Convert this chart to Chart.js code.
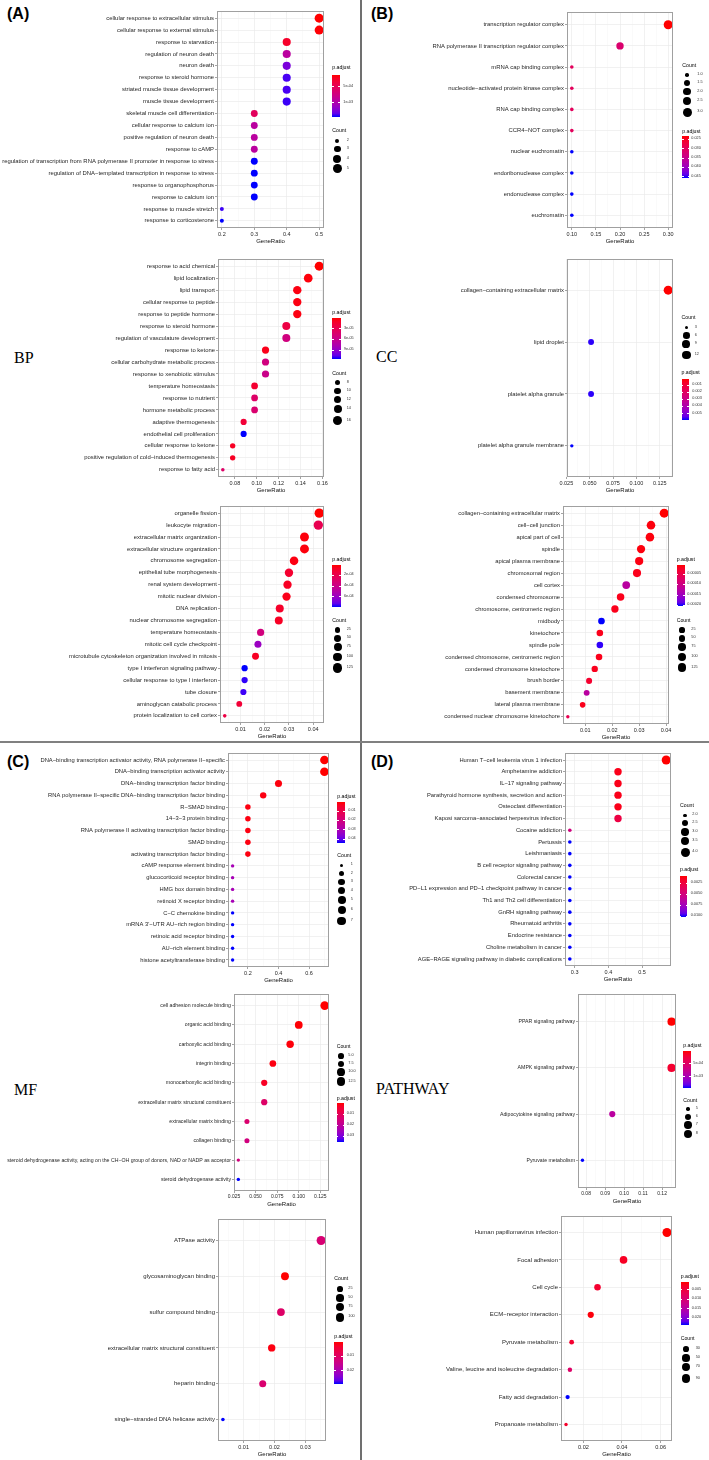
<!DOCTYPE html>
<html><head><meta charset="utf-8">
<script src="https://cdn.jsdelivr.net/npm/chart.js@4.4.1/dist/chart.umd.min.js"></script>
<style>
html,body{margin:0;padding:0;background:#fff;}
#page{position:relative;width:709px;height:1460px;overflow:hidden;background:#fff;font-family:"Liberation Sans",Arial,sans-serif;}
canvas{position:absolute;}
.t{position:absolute;white-space:nowrap;line-height:1;}
.blk{position:absolute;}
</style></head><body><div id="page"></div>
<script>
// ---------------- DATA ----------------
const bp1Terms = ["cellular response to extracellular stimulus","cellular response to external stimulus","response to starvation","regulation of neuron death","neuron death","response to steroid hormone","striated muscle tissue development","muscle tissue development","skeletal muscle cell differentiation","cellular response to calcium ion","positive regulation of neuron death","response to cAMP","regulation of transcription from RNA polymerase II promoter in response to stress","regulation of DNA−templated transcription in response to stress","response to organophosphorus","response to calcium ion","response to muscle stretch","response to corticosterone"];
const bp1Ratio = [0.5,0.5,0.4,0.4,0.4,0.4,0.4,0.4,0.3,0.3,0.3,0.3,0.3,0.3,0.3,0.3,0.2,0.2];
const bp1Count = [5,5,4,4,4,4,4,4,3,3,3,3,3,3,3,3,2,2];
const bp1Padj = [1.5e-4,1.6e-4,2.8e-4,9.2e-4,1.25e-3,1.38e-3,1.38e-3,1.40e-3,5.4e-4,9.2e-4,9.2e-4,9.2e-4,1.44e-3,1.44e-3,1.44e-3,1.44e-3,1.40e-3,1.44e-3];
const bp1XTicks = ["0.2","0.3","0.4","0.5"];
const bp1PLabels = ["5e-04","1e-03"];
const bp1CBreaks = ["2","3","4","5"];

const bp2Terms = ["response to acid chemical","lipid localization","lipid transport","cellular response to peptide","response to peptide hormone","response to steroid hormone","regulation of vasculature development","response to ketone","cellular carbohydrate metabolic process","response to xenobiotic stimulus","temperature homeostasis","response to nutrient","hormone metabolic process","adaptive thermogenesis","endothelial cell proliferation","cellular response to ketone","positive regulation of cold−induced thermogenesis","response to fatty acid"];
const bp2Ratio = [0.157,0.147,0.137,0.137,0.137,0.127,0.127,0.108,0.108,0.108,0.098,0.098,0.098,0.088,0.088,0.078,0.078,0.069];
const bp2Count = [16,15,14,14,14,13,13,11,11,11,10,10,10,9,9,8,8,7];
const bp2Padj = [1e-6,3e-6,4.5e-6,4.5e-6,4.5e-6,2.4e-5,5.3e-5,6.8e-6,5.3e-5,5.9e-5,1.5e-5,4.1e-5,4.5e-5,1.8e-5,1.16e-4,1.0e-5,1.0e-5,4.1e-5];
const bp2XTicks = ["0.08","0.10","0.12","0.14","0.16"];
const bp2PLabels = ["3e-05","6e-05","9e-05"];
const bp2CBreaks = ["8","10","12","14","16"];

const bp3Terms = ["organelle fission","leukocyte migration","extracellular matrix organization","extracellular structure organization","chromosome segregation","epithelial tube morphogenesis","renal system development","mitotic nuclear division","DNA replication","nuclear chromosome segregation","temperature homeostasis","mitotic cell cycle checkpoint","microtubule cytoskeleton organization involved in mitosis","type I interferon signaling pathway","cellular response to type I interferon","tube closure","aminoglycan catabolic process","protein localization to cell cortex"];
const bp3Ratio = [0.0425,0.0421,0.0364,0.0364,0.0321,0.0300,0.0294,0.0290,0.0262,0.0258,0.0183,0.0172,0.0162,0.0117,0.0117,0.0112,0.0095,0.0035];
const bp3Count = [134,133,115,115,101,95,93,91,83,81,58,54,51,37,37,35,30,11];
const bp3Padj = [1.5e-5,2.1e-4,3e-5,3e-5,3.8e-5,1.07e-4,7.7e-5,5.4e-5,9.2e-5,7.7e-5,3.6e-4,5.9e-4,7.7e-5,7.85e-4,7.7e-4,7.6e-4,1.3e-4,1.7e-4];
const bp3XTicks = ["0.01","0.02","0.03","0.04"];
const bp3PLabels = ["2e-04","4e-04","6e-04"];
const bp3CBreaks = ["25","50","75","100","125"];

const cc1Terms = ["transcription regulator complex","RNA polymerase II transcription regulator complex","mRNA cap binding complex","nucleotide−activated protein kinase complex","RNA cap binding complex","CCR4−NOT complex","nuclear euchromatin","endoribonuclease complex","endonuclease complex","euchromatin"];
const cc1Ratio = [0.30,0.20,0.10,0.10,0.10,0.10,0.10,0.10,0.10,0.10];
const cc1Count = [3,2,1,1,1,1,1,1,1,1];
const cc1Padj = [0.0232,0.0318,0.030,0.030,0.030,0.030,0.0459,0.0459,0.0459,0.0459];
const cc1XTicks = ["0.10","0.15","0.20","0.25","0.30"];
const cc1PLabels = ["0.025","0.030","0.035","0.040","0.045"];
const cc1CBreaks = ["1.0","1.5","2.0","2.5","3.0"];

const cc2Terms = ["collagen−containing extracellular matrix","lipid droplet","platelet alpha granule","platelet alpha granule membrane"];
const cc2Ratio = [0.134,0.0515,0.0515,0.0309];
const cc2Count = [13,5,5,3];
const cc2Padj = [1.6e-4,5.8e-3,5.8e-3,5.9e-3];
const cc2XTicks = ["0.025","0.050","0.075","0.100","0.125"];
const cc2PLabels = ["0.001","0.002","0.003","0.004","0.005"];
const cc2CBreaks = ["3","6","9","12"];

const cc3Terms = ["collagen−containing extracellular matrix","cell−cell junction","apical part of cell","spindle","apical plasma membrane","chromosomal region","cell cortex","condensed chromosome","chromosome, centromeric region","midbody","kinetochore","spindle pole","condensed chromosome, centromeric region","condensed chromosome kinetochore","brush border","basement membrane","lateral plasma membrane","condensed nuclear chromosome kinetochore"];
const cc3Ratio = [0.0393,0.0344,0.0340,0.0307,0.0300,0.0292,0.0252,0.0231,0.0210,0.0160,0.0154,0.0154,0.0151,0.0135,0.0114,0.0105,0.0090,0.0035];
const cc3Count = [134,117,116,104,102,99,86,79,71,54,52,52,51,46,39,36,31,12];
const cc3Padj = [7e-6,1.1e-5,1.1e-5,1.1e-5,1.3e-5,1.7e-5,1.25e-4,1.7e-5,1.7e-5,2.03e-4,1.7e-5,1.99e-4,1.7e-5,1.9e-5,3.0e-5,1.25e-4,1.7e-5,5.6e-5];
const cc3XTicks = ["0.01","0.02","0.03","0.04"];
const cc3PLabels = ["0.00005","0.00010","0.00015","0.00020"];
const cc3CBreaks = ["25","50","75","100","125"];

const mf1Terms = ["DNA−binding transcription activator activity, RNA polymerase II−specific","DNA−binding transcription activator activity","DNA−binding transcription factor binding","RNA polymerase II−specific DNA−binding transcription factor binding","R−SMAD binding","14−3−3 protein binding","RNA polymerase II activating transcription factor binding","SMAD binding","activating transcription factor binding","cAMP response element binding","glucocorticoid receptor binding","HMG box domain binding","retinoid X receptor binding","C−C chemokine binding","mRNA 3'−UTR AU−rich region binding","retinoic acid receptor binding","AU−rich element binding","histone acetyltransferase binding"];
const mf1Ratio = [0.7,0.7,0.4,0.3,0.2,0.2,0.2,0.2,0.2,0.1,0.1,0.1,0.1,0.1,0.1,0.1,0.1,0.1];
const mf1Count = [7,7,4,3,2,2,2,2,2,1,1,1,1,1,1,1,1,1];
const mf1Padj = [3e-4,3e-4,1.2e-3,1.6e-3,1.5e-3,1.5e-3,1.5e-3,1.5e-3,1.5e-3,0.0306,0.0306,0.0306,0.0306,0.0439,0.0439,0.0439,0.0439,0.0439];
const mf1XTicks = ["0.2","0.4","0.6"];
const mf1PLabels = ["0.01","0.02","0.03","0.04"];
const mf1CBreaks = ["1","2","3","4","5","6","7"];

const mf2Terms = ["cell adhesion molecule binding","organic acid binding","carboxylic acid binding","integrin binding","monocarboxylic acid binding","extracellular matrix structural constituent","extracellular matrix binding","collagen binding","steroid dehydrogenase activity, acting on the CH−OH group of donors, NAD or NADP as acceptor","steroid dehydrogenase activity"];
const mf2Ratio = [0.13,0.10,0.09,0.07,0.06,0.06,0.04,0.04,0.03,0.03];
const mf2Count = [13,10,9,7,6,6,4,4,3,3];
const mf2Padj = [3e-4,6e-4,9e-4,1.3e-3,3.1e-3,0.0127,0.0137,0.0162,0.0162,0.0358];
const mf2XTicks = ["0.025","0.050","0.075","0.100","0.125"];
const mf2PLabels = ["0.01","0.02","0.03"];
const mf2CBreaks = ["5.0","7.5","10.0","12.5"];

const mf3Terms = ["ATPase activity","glycosaminoglycan binding","sulfur compound binding","extracellular matrix structural constituent","heparin binding","single−stranded DNA helicase activity"];
const mf3Ratio = [0.0351,0.0234,0.0221,0.0191,0.0162,0.0033];
const mf3Count = [109,73,69,59,50,10];
const mf3Padj = [0.0122,6.8e-4,0.0107,1.5e-3,0.0116,0.0293];
const mf3XTicks = ["0.01","0.02","0.03"];
const mf3PLabels = ["0.01","0.02"];
const mf3CBreaks = ["25","50","75","100"];

const pw1Terms = ["Human T−cell leukemia virus 1 infection","Amphetamine addiction","IL−17 signaling pathway","Parathyroid hormone synthesis, secretion and action","Osteoclast differentiation","Kaposi sarcoma−associated herpesvirus infection","Cocaine addiction","Pertussis","Leishmaniasis","B cell receptor signaling pathway","Colorectal cancer","PD−L1 expression and PD−1 checkpoint pathway in cancer","Th1 and Th2 cell differentiation","GnRH signaling pathway","Rheumatoid arthritis","Endocrine resistance","Choline metabolism in cancer","AGE−RAGE signaling pathway in diabetic complications"];
const pw1Ratio = [0.5714,0.4286,0.4286,0.4286,0.4286,0.4286,0.2857,0.2857,0.2857,0.2857,0.2857,0.2857,0.2857,0.2857,0.2857,0.2857,0.2857,0.2857];
const pw1Count = [4,3,3,3,3,3,2,2,2,2,2,2,2,2,2,2,2,2];
const pw1Padj = [7.4e-4,1.2e-3,1.2e-3,1.2e-3,1.2e-3,2.6e-3,5.0e-3,0.0102,0.0102,0.0102,0.0102,0.0102,0.0102,0.0102,0.0102,0.0102,0.0102,0.0102];
const pw1XTicks = ["0.3","0.4","0.5"];
const pw1PLabels = ["0.0025","0.0050","0.0075","0.0100"];
const pw1CBreaks = ["2.0","2.5","3.0","3.5","4.0"];

const pw2Terms = ["PPAR signaling pathway","AMPK signaling pathway","Adipocytokine signaling pathway","Pyruvate metabolism"];
const pw2Ratio = [0.125,0.125,0.0938,0.0781];
const pw2Count = [8,8,6,5];
const pw2Padj = [1.3e-5,1.85e-4,8.75e-4,1.45e-3];
const pw2XTicks = ["0.08","0.09","0.10","0.11","0.12"];
const pw2PLabels = ["5e-04","1e-03"];
const pw2CBreaks = ["5","6","7","8"];

const pw3Terms = ["Human papillomavirus infection","Focal adhesion","Cell cycle","ECM−receptor interaction","Pyruvate metabolism","Valine, leucine and isoleucine degradation","Fatty acid degradation","Propanoate metabolism"];
const pw3Ratio = [0.0633,0.0408,0.0273,0.0238,0.0139,0.0130,0.0118,0.0110];
const pw3Count = [95,61,41,36,21,19,18,16];
const pw3Padj = [1.17e-3,2.96e-3,3.85e-3,1.6e-3,3.85e-3,8.99e-3,0.0235,3.4e-3];
const pw3XTicks = ["0.02","0.04","0.06"];
const pw3PLabels = ["0.005","0.010","0.015","0.020"];
const pw3CBreaks = ["30","50","70","90"];

// ---------------- COLOUR (ggplot Lab gradient red -> blue) ----------------
function lin(c){c/=255;return c<=0.04045?c/12.92:Math.pow((c+0.055)/1.055,2.4);}
function toLab(r,g,b){r=lin(r);g=lin(g);b=lin(b);
  const X=(0.4124564*r+0.3575761*g+0.1804375*b)/0.95047,Y=(0.2126729*r+0.7151522*g+0.0721750*b),Z=(0.0193339*r+0.1191920*g+0.9503041*b)/1.08883;
  const f=t=>t>0.008856?Math.cbrt(t):7.787*t+16/116;const fx=f(X),fy=f(Y),fz=f(Z);
  return [116*fy-16,500*(fx-fy),200*(fy-fz)];}
function fromLab(L,a,b){const fy=(L+16)/116,fx=fy+a/500,fz=fy-b/200;
  const fi=t=>{const t3=t*t*t;return t3>0.008856?t3:(t-16/116)/7.787;};
  const X=fi(fx)*0.95047,Y=fi(fy),Z=fi(fz)*1.08883;
  const r=3.2404542*X-1.5371385*Y-0.4985314*Z,g=-0.9692660*X+1.8760108*Y+0.0415560*Z,bb=0.0556434*X-0.2040259*Y+1.0572252*Z;
  const s=c=>{c=Math.min(1,Math.max(0,c));return Math.round(255*(c<=0.0031308?12.92*c:1.055*Math.pow(c,1/2.4)-0.055));};
  return 'rgb('+s(r)+','+s(g)+','+s(bb)+')';}
const LO=toLab(255,0,0),HI=toLab(0,0,255);
function grad(t){t=Math.min(1,Math.max(0,t));return fromLab(LO[0]+(HI[0]-LO[0])*t,LO[1]+(HI[1]-LO[1])*t,LO[2]+(HI[2]-LO[2])*t);}

// ---------------- LAYOUT ----------------
const plots = [
 {terms:bp1Terms,ratio:bp1Ratio,count:bp1Count,padj:bp1Padj,xt:bp1XTicks,pl:bp1PLabels,cb:bp1CBreaks,box:[217,11,324,228],fs:5.9,xfs:5.5,rmin:2.0,rmax:4.5,
  leg:{x:332.3,bw:7.7,pT:68.3,pTop:75.3,pBot:116.7,plx:343.3,cT:131,ccx:337.3,cys:[140.7,149,159,168.7],clx:346.7}},
 {terms:bp2Terms,ratio:bp2Ratio,count:bp2Count,padj:bp2Padj,xt:bp2XTicks,pl:bp2PLabels,cb:bp2CBreaks,box:[218,259,324,477],fs:5.9,xfs:5.5,rmin:1.8,rmax:4.5,
  leg:{x:332.3,bw:8.3,pT:312.7,pTop:318.3,pBot:359.3,plx:344,cT:373.7,ccx:337.7,cys:[382.7,391,399.7,409.3,420.7],clx:346.7}},
 {terms:bp3Terms,ratio:bp3Ratio,count:bp3Count,padj:bp3Padj,xt:bp3XTicks,pl:bp3PLabels,cb:bp3CBreaks,box:[220,506,324,723],fs:5.9,xfs:5.5,rmin:1.8,rmax:4.7,
  leg:{x:332.3,bw:8.3,pT:560,pTop:565,pBot:606.7,plx:344,cT:620.7,ccx:337.7,cys:[630,638.3,647.3,657,668],clx:346.7}},
 {terms:cc1Terms,ratio:cc1Ratio,count:cc1Count,padj:cc1Padj,xt:cc1XTicks,pl:cc1PLabels,cb:cc1CBreaks,box:[567,12,673,228],fs:5.9,xfs:5.5,rmin:1.8,rmax:4.5,
  leg:{x:682.3,bw:6.7,pT:131.7,pTop:136,pBot:178.3,plx:691.3,cT:65.7,ccx:687,cys:[75,83,91.7,101.3,112.3],clx:697.3}},
 {terms:cc2Terms,ratio:cc2Ratio,count:cc2Count,padj:cc2Padj,xt:cc2XTicks,pl:cc2PLabels,cb:cc2CBreaks,box:[567,259,673,477],fs:5.9,xfs:5.5,rmin:1.7,rmax:4.5,
  leg:{x:681.5,bw:7.3,pT:373.3,pTop:379,pBot:420,plx:692.3,cT:318.3,ccx:686.3,cys:[327.7,335.7,344.3,355],clx:694.7}},
 {terms:cc3Terms,ratio:cc3Ratio,count:cc3Count,padj:cc3Padj,xt:cc3XTicks,pl:cc3PLabels,cb:cc3CBreaks,box:[563,506,669,724],fs:5.8,xfs:5.5,rmin:1.7,rmax:4.5,
  leg:{x:676.7,bw:8,pT:560,pTop:565,pBot:606,plx:687.3,cT:620.7,ccx:682,cys:[630,638.3,647,657,667.7],clx:691.3}},
 {terms:mf1Terms,ratio:mf1Ratio,count:mf1Count,padj:mf1Padj,xt:mf1XTicks,pl:mf1PLabels,cb:mf1CBreaks,box:[228,753,329,967],fs:5.8,xfs:5.5,rmin:1.7,rmax:4.3,
  leg:{x:337.3,bw:7.7,pT:796.7,pTop:801.7,pBot:842.7,plx:348.3,cT:855.7,ccx:341.7,cys:[865.3,873.7,882,890.7,899.7,909.7,921],clx:350.7}},
 {terms:mf2Terms,ratio:mf2Ratio,count:mf2Count,padj:mf2Padj,xt:mf2XTicks,pl:mf2PLabels,cb:mf2CBreaks,box:[234,994,329,1191],fs:5.2,xfs:5.0,rmin:1.7,rmax:4.3,
  leg:{x:336.7,bw:7.3,pT:1099.3,pTop:1103.3,pBot:1142.3,plx:346.7,cT:1047.3,ccx:341,cys:[1055.7,1064,1072.3,1081.7],clx:348.3}},
 {terms:mf3Terms,ratio:mf3Ratio,count:mf3Count,padj:mf3Padj,xt:mf3XTicks,pl:mf3PLabels,cb:mf3CBreaks,box:[218,1219,326,1441],fs:6.0,xfs:5.5,rmin:1.8,rmax:4.5,
  leg:{x:334.3,bw:8.4,pT:1337,pTop:1342.3,pBot:1384.3,plx:346.7,cT:1279.3,ccx:340,cys:[1289,1298,1307,1317.3],clx:348.3}},
 {terms:pw1Terms,ratio:pw1Ratio,count:pw1Count,padj:pw1Padj,xt:pw1XTicks,pl:pw1PLabels,cb:pw1CBreaks,box:[565,753,671,966],fs:5.8,xfs:5.5,rmin:1.8,rmax:4.5,
  leg:{x:680,bw:7.3,pT:870.3,pTop:875.7,pBot:916.7,plx:690.7,cT:805.7,ccx:685,cys:[815.3,823.3,832,841,852],clx:692.3}},
 {terms:pw2Terms,ratio:pw2Ratio,count:pw2Count,padj:pw2Padj,xt:pw2XTicks,pl:pw2PLabels,cb:pw2CBreaks,box:[578,994,676,1188],fs:5.2,xfs:5.0,rmin:1.7,rmax:4.1,
  leg:{x:683.3,bw:7.4,pT:1046.3,pTop:1051,pBot:1088.3,plx:693.3,cT:1100.7,ccx:688,cys:[1109,1117,1125,1134],clx:695.7}},
 {terms:pw3Terms,ratio:pw3Ratio,count:pw3Count,padj:pw3Padj,xt:pw3XTicks,pl:pw3PLabels,cb:pw3CBreaks,box:[561,1216,672,1441],fs:6.0,xfs:5.6,rmin:1.7,rmax:4.5,
  leg:{x:680.7,bw:8.3,pT:1276.7,pTop:1282.3,pBot:1325,plx:691.7,cT:1339.3,ccx:686,cys:[1349,1358,1367.3,1378.7],clx:695.7}}
];

const FAM='"Liberation Sans", Arial, sans-serif';
Chart.defaults.font.family=FAM;
const page=document.getElementById('page');

function txt(s,x,y,size,o){o=o||{};const d=document.createElement('div');d.className='t';d.textContent=s;
  d.style.left=x+'px';d.style.top=y+'px';d.style.fontSize=size+'px';d.style.transform='translateY(-50%)';
  if(o.family)d.style.fontFamily=o.family;if(o.bold)d.style.fontWeight='bold';d.style.color=o.color||'#000';
  page.appendChild(d);return d;}
function blk(x,y,w,h,bg,extra){const d=document.createElement('div');d.className='blk';d.style.left=x+'px';d.style.top=y+'px';
  d.style.width=w+'px';d.style.height=h+'px';d.style.background=bg;if(extra)Object.assign(d.style,extra);page.appendChild(d);return d;}

const boxPlugin={id:'panelBox',afterDraw(chart){const {ctx,chartArea:a}=chart;ctx.save();ctx.strokeStyle='#a0a0a0';ctx.lineWidth=1;
  ctx.strokeRect(Math.round(a.left)+0.5,Math.round(a.top)+0.5,Math.round(a.right-a.left)-1,Math.round(a.bottom-a.top)-1);ctx.restore();}};

function makePlot(cfg){
  const [l,t,r,b]=cfg.box;
  const colLeft=l>360?362:0;
  const PT=5,PR=10,XH=17;
  const W=r-colLeft+PR,H=PT+(b-t)+XH;
  const cv=document.createElement('canvas');cv.width=W;cv.height=H;
  cv.style.left=colLeft+'px';cv.style.top=(t-PT)+'px';cv.style.width=W+'px';cv.style.height=H+'px';
  page.appendChild(cv);
  const n=cfg.terms.length;
  const mn=Math.min(...cfg.ratio),mx=Math.max(...cfg.ratio),rg=mx-mn;
  const xmin=mn-0.05*rg,xmax=mx+0.05*rg;
  const major=cfg.xt.map(Number);const step=major[1]-major[0];
  const minor=[];for(let i=-1;i<major.length;i++){const v=major[0]+(i+0.5)*step;if(v>xmin&&v<xmax)minor.push(v);}
  const isMajor=v=>major.some(m=>Math.abs(m-v)<step*1e-3);
  const lab=v=>{const i=major.findIndex(m=>Math.abs(m-v)<step*1e-3);return i<0?'':cfg.xt[i];};
  const cmin=Math.min(...cfg.count),cmax=Math.max(...cfg.count);
  const rad=c=>cfg.rmin+Math.sqrt(Math.max(0,Math.min(1,(c-cmin)/(cmax-cmin))))*(cfg.rmax-cfg.rmin);
  const pmin=Math.min(...cfg.padj),pmax=Math.max(...cfg.padj);
  const col=p=>grad((p-pmin)/(pmax-pmin));
  new Chart(cv,{type:'bubble',
    data:{datasets:[{data:cfg.ratio.map((x,i)=>({x:x,y:i,r:rad(cfg.count[i])})),backgroundColor:cfg.padj.map(col),borderWidth:0,hoverBorderWidth:0,hoverRadius:0}]},
    options:{responsive:false,animation:false,events:[],devicePixelRatio:1,
      layout:{padding:{left:0,top:PT,right:PR,bottom:0}},
      plugins:{legend:{display:false},tooltip:{enabled:false},title:{display:false}},
      scales:{
        x:{type:'linear',min:xmin,max:xmax,bounds:'data',
          afterBuildTicks:s=>{s.ticks=major.concat(minor).sort((a,c)=>a-c).map(v=>({value:v}));},
          afterFit:s=>{s.height=XH;},
          ticks:{autoSkip:false,maxRotation:0,minRotation:0,padding:1,color:'#262626',font:{size:cfg.xfs,family:FAM},callback:v=>lab(v)},
          grid:{color:c=>isMajor(c.tick.value)?'#ebebeb':'#f4f4f4',lineWidth:c=>isMajor(c.tick.value)?0.7:0.45,
                tickLength:2,tickWidth:0.6,tickColor:c=>isMajor(c.tick.value)?'#666':'rgba(0,0,0,0)'},
          border:{display:false},
          title:{display:true,text:'GeneRatio',color:'#111',font:{size:6,family:FAM},padding:{top:0,bottom:0}}},
        y:{type:'linear',reverse:true,min:-0.6,max:n-0.4,bounds:'data',
          afterBuildTicks:s=>{s.ticks=cfg.terms.map((_,i)=>({value:i}));},
          afterFit:s=>{s.width=l-colLeft;},
          ticks:{autoSkip:false,padding:1,color:'#262626',font:{size:cfg.fs,family:FAM},callback:v=>cfg.terms[v]},
          grid:{color:'#ebebeb',lineWidth:0.7,tickLength:2,tickWidth:0.6,tickColor:'#666'},
          border:{display:false}}
      }},
    plugins:[boxPlugin]});
  // legends
  const L=cfg.leg;
  txt('p.adjust',L.x,L.pT,5.2);
  const stops=[];for(let i=0;i<=12;i++){stops.push(grad(i/12)+' '+(i/12*100).toFixed(1)+'%');}
  const bh=L.pBot-L.pTop;
  blk(L.x,L.pTop,L.bw,bh,'linear-gradient(to bottom,'+stops.join(',')+')');
  cfg.pl.forEach(s=>{const v=Number(s);const y=L.pTop+(v-pmin)/(pmax-pmin)*bh;
    blk(L.x,y-0.3,L.bw*0.2,0.6,'#fff');blk(L.x+L.bw*0.8,y-0.3,L.bw*0.2,0.6,'#fff');
    txt(s,L.plx,y,3.8,{color:'#333'});});
  txt('Count',L.x,L.cT,5.2);
  cfg.cb.forEach((s,i)=>{const rr=rad(Number(s));const y=L.cys[i];
    blk(L.ccx-rr,y-rr,2*rr,2*rr,'#000',{borderRadius:'50%'});
    txt(s,L.clx,y,3.8,{color:'#333'});});
}

// frame lines
blk(359.5,0,2,1460,'#707070');
blk(0,741,709,2,'#808080');
// panel labels
txt('(A)',7,14,16,{bold:true});
txt('(B)',371,14,16,{bold:true});
txt('(C)',7,762,16,{bold:true});
txt('(D)',371,762,16,{bold:true});
const SERIF='"Liberation Serif","Times New Roman",serif';
txt('BP',14,357.5,16,{family:SERIF});
txt('CC',376,357,16,{family:SERIF});
txt('MF',14,1089.5,16,{family:SERIF});
txt('PATHWAY',376,1089,16,{family:SERIF});

plots.forEach(makePlot);
</script>
</body></html>
